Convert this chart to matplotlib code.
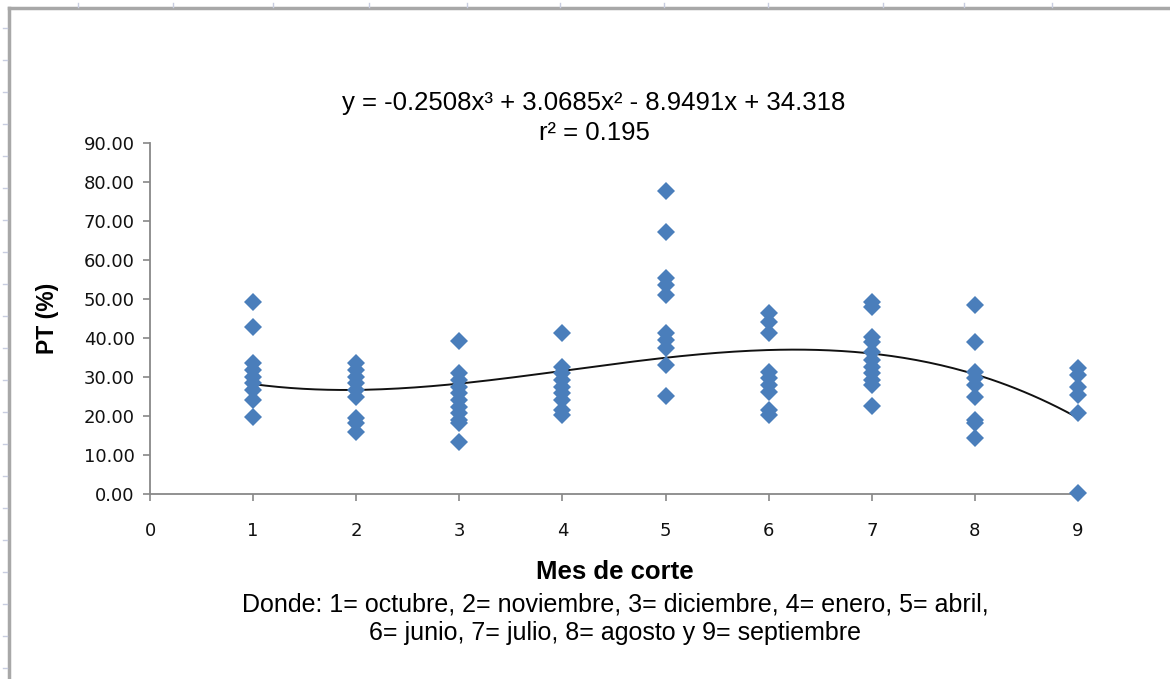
import numpy as np
import matplotlib
matplotlib.use('Agg')
import matplotlib.pyplot as plt
from matplotlib.lines import Line2D

# PT (%) per cutting month (1..9)
mes_1 = [49.3, 42.7, 33.5, 31.8, 30.1, 28.4, 26.7, 24.1, 19.8]
mes_2 = [33.5, 31.8, 30.1, 28.4, 26.7, 25.0, 19.4, 18.1, 16.0]
mes_3 = [39.3, 31.1, 29.2, 27.5, 25.8, 24.1, 22.4, 20.7, 19.0, 18.1, 13.4]
mes_4 = [41.4, 32.6, 30.9, 29.2, 27.5, 25.8, 24.1, 21.5, 20.3]
mes_5 = [77.7, 67.3, 55.3, 53.6, 51.0, 41.2, 39.5, 37.4, 33.1, 25.1]
mes_6 = [46.3, 44.2, 41.2, 31.4, 29.7, 28.0, 26.2, 21.5, 20.3]
mes_7 = [49.3, 48.0, 40.3, 39.0, 36.5, 34.4, 32.6, 30.9, 29.2, 27.9, 22.6]
mes_8 = [48.5, 38.9, 31.4, 29.7, 28.0, 25.0, 19.0, 18.1, 14.3]
mes_9 = [32.2, 30.5, 27.5, 25.4, 20.7, 0.2]
meses = [mes_1, mes_2, mes_3, mes_4, mes_5, mes_6, mes_7, mes_8, mes_9]

# cubic trend line as given on the chart
coefs = [-0.2508, 3.0685, -8.9491, 34.318]
r2 = 0.195

y_ticks = [0, 10, 20, 30, 40, 50, 60, 70, 80, 90]
x_ticks = [0, 1, 2, 3, 4, 5, 6, 7, 8, 9]

W, H = 1170, 679
fig = plt.figure(figsize=(W / 100, H / 100), dpi=100)
ax = fig.add_axes([150 / W, 1 - 494 / H, 928 / W, 351 / H])

x = []
y = []
for i, vals in enumerate(meses):
    x += [i + 1] * len(vals)
    y += vals
ax.plot(x, y, 'D', color='#4a7ebb', markersize=9.5, markeredgewidth=0,
        zorder=3, clip_on=False)

xs = np.linspace(1, 9, 200)
ax.plot(xs, np.polyval(coefs, xs), color='#111111', lw=1.4, zorder=2)

ax.set_xlim(0, 9)
ax.set_ylim(0, 90)
ax.set_xticks(x_ticks)
ax.set_yticks(y_ticks)
ax.set_yticklabels(['%.2f' % v for v in y_ticks])
for s in ['top', 'right']:
    ax.spines[s].set_visible(False)
for s in ['left', 'bottom']:
    ax.spines[s].set_color('#888888')
    ax.spines[s].set_linewidth(1.3)
ax.tick_params(axis='both', direction='out', length=5, width=1.2,
               color='#888888', labelsize=13, labelcolor='#111111')
ax.tick_params(axis='x', pad=15)
ax.tick_params(axis='y', pad=6)
for lbl in ax.get_xticklabels() + ax.get_yticklabels():
    lbl.set_family('DejaVu Sans')

font = ['Liberation Sans Narrow', 'Liberation Sans']
ax.set_ylabel('PT (%)', family=font, fontsize=16.5, fontweight='bold',
              labelpad=18)

fig.text(594 / W, 1 - 103 / H,
         'y = -0.2508x³ + 3.0685x² - 8.9491x + 34.318',
         family=font, fontsize=18.5, ha='center', va='center')
fig.text(594 / W, 1 - 133 / H, 'r² = %.3f' % r2,
         family=font, fontsize=18.5, ha='center', va='center')
fig.text(615 / W, 1 - 572 / H, 'Mes de corte', family=font, fontsize=18.5,
         fontweight='bold', ha='center', va='center')
fig.text(615 / W, 1 - 619 / H,
         'Donde: 1= octubre, 2= noviembre, 3= diciembre, 4= enero, 5= abril,\n'
         '6= junio, 7= julio, 8= agosto y 9= septiembre',
         family=font, fontsize=18, ha='center', va='center', linespacing=1.25)

# outer chart frame
fig.add_artist(Line2D([9 / W, 9 / W], [0, 1 - 8 / H], color='#a8a8a8', lw=2.5))
fig.add_artist(Line2D([9 / W, 1], [1 - 8 / H, 1 - 8 / H], color='#a8a8a8', lw=2.5))
for yy in range(28, H, 32):
    fig.add_artist(Line2D([3 / W, 7 / W], [1 - yy / H, 1 - yy / H],
                          color='#c8cde0', lw=1))
for xx in [78, 173, 273, 369, 467, 560, 664, 768, 883, 964, 1052]:
    fig.add_artist(Line2D([xx / W, xx / W], [1 - 3 / H, 1 - 7 / H],
                          color='#c8cde0', lw=1))

fig.savefig('out.png', dpi=100)
